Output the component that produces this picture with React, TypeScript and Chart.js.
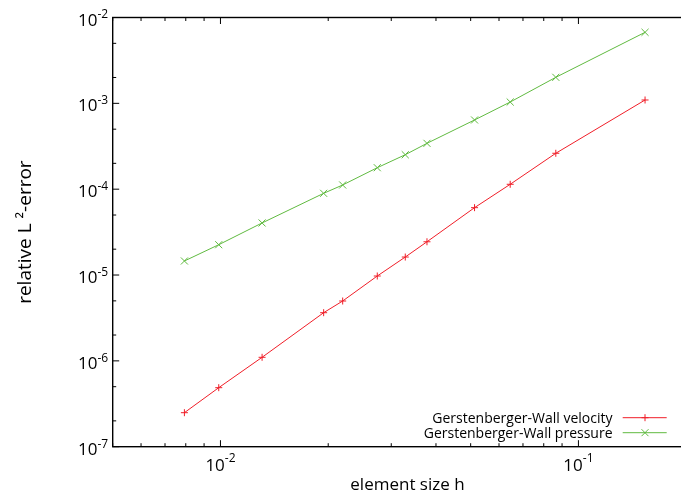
import React, { useEffect, useRef } from 'react';
import { Chart, registerables } from 'chart.js';

Chart.register(...registerables);

// ---- data ----
const elementSize = [0.00793, 0.00989, 0.01307, 0.01942, 0.02195, 0.02742, 0.03283, 0.03775, 0.05126, 0.06448, 0.08646, 0.1535];
const velocityError = [2.49e-7, 4.87e-7, 1.1e-6, 3.64e-6, 4.98e-6, 9.74e-6, 1.62e-5, 2.44e-5, 6.09e-5, 1.14e-4, 2.62e-4, 1.094e-3];
const pressureError = [1.457e-5, 2.255e-5, 4.04e-5, 8.95e-5, 1.119e-4, 1.779e-4, 2.52e-4, 3.42e-4, 6.4e-4, 1.036e-3, 2.01e-3, 6.72e-3];

const seriesLabels = ['Gerstenberger-Wall velocity', 'Gerstenberger-Wall pressure'];
const seriesColors = ['rgb(240,30,40)', 'rgb(96,186,64)'];

const xMajorTicks = [0.01, 0.1];
const xTickExponents = ['-2', '-1'];
const yMajorTicks = [1e-7, 1e-6, 1e-5, 1e-4, 1e-3, 1e-2];
const yTickExponents = ['-7', '-6', '-5', '-4', '-3', '-2'];
const xDecades = [0.001, 0.01, 0.1];
const yDecades = [1e-8, 1e-7, 1e-6, 1e-5, 1e-4, 1e-3];
const xMinorMultipliers = [2, 3, 4, 5, 6, 7, 8, 9];
const yMinorMultipliers = [2, 5];

const FONT = '"Open Sans", "DejaVu Sans", sans-serif';

const gnuplotFrame = {
  id: 'gnuplotFrame',
  afterDraw(chart: any) {
    const { ctx, chartArea: ca, scales } = chart;
    const x = scales.x;
    const y = scales.y;
    ctx.save();
    ctx.strokeStyle = '#000';
    ctx.fillStyle = '#000';

    const seg = (x1: number, y1: number, x2: number, y2: number) => {
      ctx.beginPath();
      ctx.moveTo(x1, y1);
      ctx.lineTo(x2, y2);
      ctx.stroke();
    };

    // ticks (inward, mirrored)
    ctx.lineWidth = 1;
    const xTick = (v: number, len: number) => {
      if (v < x.min - 1e-12 || v > x.max + 1e-12) return;
      const px = x.getPixelForValue(v);
      seg(px, ca.bottom, px, ca.bottom - len);
      seg(px, ca.top, px, ca.top + len);
    };
    const yTick = (v: number, len: number) => {
      if (v < y.min * 0.999 || v > y.max * 1.001) return;
      const py = y.getPixelForValue(v);
      seg(ca.left, py, ca.left + len, py);
      seg(ca.right, py, ca.right - len, py);
    };
    xDecades.forEach((d) => xMinorMultipliers.forEach((m) => xTick(d * m, 3.5)));
    xMajorTicks.forEach((v) => xTick(v, 6.5));
    yDecades.forEach((d) => yMinorMultipliers.forEach((m) => yTick(d * m, 3.5)));
    yMajorTicks.forEach((v) => yTick(v, 6.5));

    // border
    ctx.lineWidth = 1.4;
    ctx.strokeRect(ca.left, ca.top, ca.right - ca.left, ca.bottom - ca.top);

    // tick labels with superscript exponents
    const baseFont = `17px ${FONT}`;
    const expFont = `12px ${FONT}`;
    ctx.textAlign = 'left';
    ctx.textBaseline = 'alphabetic';
    xMajorTicks.forEach((v, i) => {
      const px = x.getPixelForValue(v);
      ctx.font = baseFont;
      const w10 = ctx.measureText('10').width;
      ctx.font = expFont;
      const we = ctx.measureText(xTickExponents[i]).width;
      const start = px - (w10 + we) / 2;
      ctx.font = baseFont;
      ctx.fillText('10', start, ca.bottom + 24.5);
      ctx.font = expFont;
      ctx.fillText(xTickExponents[i], start + w10, ca.bottom + 15);
    });
    yMajorTicks.forEach((v, i) => {
      const py = y.getPixelForValue(v);
      const right = ca.left - 4.5;
      ctx.font = expFont;
      const we = ctx.measureText(yTickExponents[i]).width;
      ctx.font = baseFont;
      const w10 = ctx.measureText('10').width;
      ctx.fillText('10', right - we - w10, py + 8);
      ctx.font = expFont;
      ctx.fillText(yTickExponents[i], right - we, py + 0.8);
    });

    // key (gnuplot style: text, then sample line with marker)
    ctx.font = `14px ${FONT}`;
    ctx.textAlign = 'right';
    chart.data.datasets.forEach((ds: any, i: number) => {
      const ly = ca.bottom - 29 + 15 * i;
      ctx.fillStyle = '#000';
      ctx.fillText(ds.label, 612.5, ly + 5);
      ctx.strokeStyle = ds.borderColor;
      ctx.lineWidth = 1;
      seg(622.7, ly, 666.7, ly);
      const cx = 645;
      const r = 3.5;
      if (ds.pointStyle === 'cross') {
        seg(cx - r, ly, cx + r, ly);
        seg(cx, ly - r, cx, ly + r);
      } else {
        seg(cx - r, ly - r, cx + r, ly + r);
        seg(cx - r, ly + r, cx + r, ly - r);
      }
    });
    ctx.restore();
  },
};

export default function App() {
  const canvasRef = useRef<HTMLCanvasElement | null>(null);

  useEffect(() => {
    if (!canvasRef.current) return;
    const toPoints = (ys: number[]) => elementSize.map((h, i) => ({ x: h, y: ys[i] }));
    const chart = new Chart(canvasRef.current, {
      type: 'line',
      data: {
        datasets: [
          {
            label: seriesLabels[0],
            data: toPoints(velocityError),
            borderColor: seriesColors[0],
            backgroundColor: seriesColors[0],
            borderWidth: 1,
            pointStyle: 'cross',
            pointRadius: 3.5,
            pointBorderWidth: 1,
            pointBorderColor: seriesColors[0],
            tension: 0,
            fill: false,
          },
          {
            label: seriesLabels[1],
            data: toPoints(pressureError),
            borderColor: seriesColors[1],
            backgroundColor: seriesColors[1],
            borderWidth: 1,
            pointStyle: 'crossRot',
            pointRadius: 5,
            pointBorderWidth: 1,
            pointBorderColor: seriesColors[1],
            tension: 0,
            fill: false,
          },
        ],
      },
      options: {
        animation: false,
        responsive: false,
        maintainAspectRatio: false,
        devicePixelRatio: 1,
        layout: { padding: { left: 0, top: 17.5, right: 17.8, bottom: 0 } },
        plugins: {
          legend: { display: false },
          tooltip: { enabled: false },
        },
        scales: {
          x: {
            type: 'logarithmic',
            position: 'bottom',
            min: 0.005,
            max: 0.2217,
            grid: { display: false },
            border: { display: false },
            ticks: { display: false },
            title: {
              display: true,
              text: 'element size h',
              color: '#000',
              font: { family: FONT, size: 17, lineHeight: 0.9 },
              padding: 0,
            },
            afterFit: (s: any) => {
              s.height = 46.3;
            },
          },
          y: {
            type: 'logarithmic',
            position: 'left',
            min: 1e-7,
            max: 1e-2,
            grid: { display: false },
            border: { display: false },
            ticks: { display: false },
            title: {
              display: true,
              text: 'relative L ²-error',
              color: '#000',
              font: { family: FONT, size: 19, lineHeight: 0.9 },
              padding: { top: 17.5, bottom: 0 },
            },
            afterFit: (s: any) => {
              s.width = 112.7;
            },
          },
        },
      },
      plugins: [gnuplotFrame],
    } as any);
    return () => chart.destroy();
  }, []);

  return (
    <div
      style={{
        position: 'fixed',
        left: 0,
        top: 0,
        width: 681,
        height: 493,
        overflow: 'hidden',
        background: '#fff',
      }}
    >
      <canvas ref={canvasRef} width={720} height={493} style={{ display: 'block' }} />
    </div>
  );
}
